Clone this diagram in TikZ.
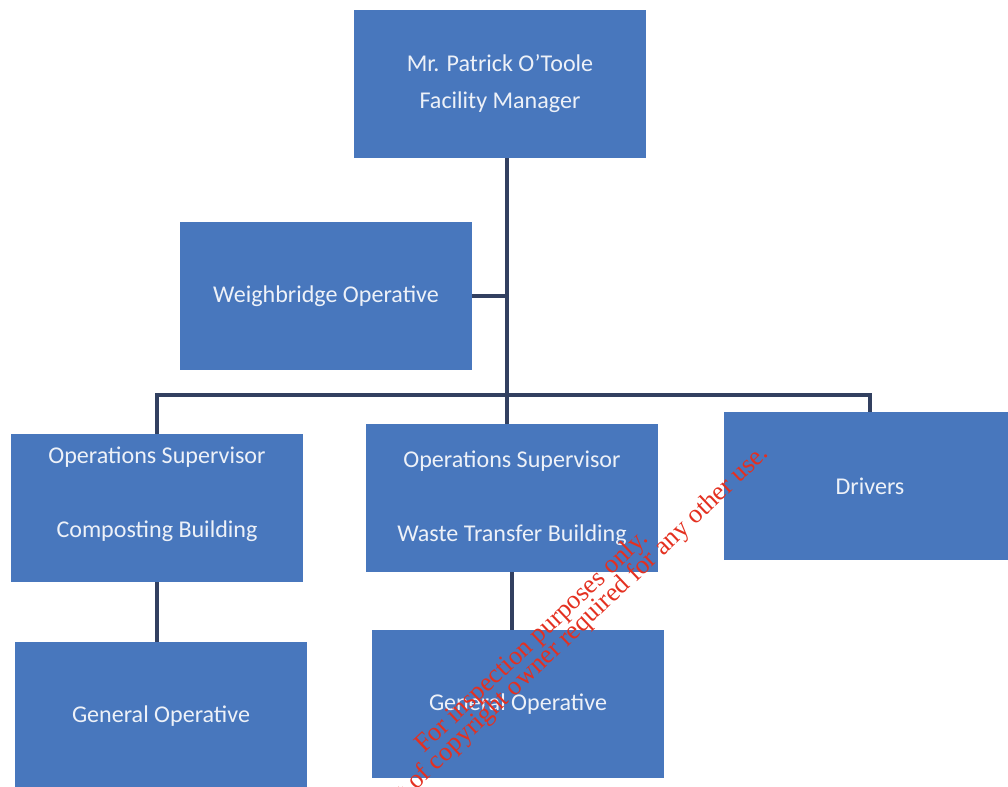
\documentclass[tikz,border=0pt]{standalone}
\usepackage{fontspec}
\setmainfont{Carlito}
\newfontfamily\stampfont{Liberation Serif}
\usetikzlibrary{positioning}
\definecolor{boxblue}{RGB}{72,119,189}
\definecolor{linkgrey}{RGB}{50,64,96}
\definecolor{stampred}{RGB}{228,48,32}

\begin{document}
\begin{tikzpicture}[x=0.02cm, y=-0.02cm,
  post/.style={fill=boxblue, text=white!90!boxblue, font=\fontsize{13.7}{16.5}\selectfont, align=center, inner sep=0pt, minimum width=5.84cm, minimum height=2.96cm},
  link/.style={draw=linkgrey, line width=2.3pt},
  stamp/.style={text=stampred, font=\stampfont\fontsize{15}{17}\selectfont, rotate=43.5, inner sep=0pt}]
\clip (0,0) rectangle (1008,787);
\fill[white] (0,0) rectangle (1008,787);
% posts
\path (500,84) node[post] (top) {Mr. Patrick O'Toole\\[4.5pt]Facility Manager};
\path (326,296) node[post] (weigh) {Weighbridge Operative};
\path (157,508) node[post] (opsc) {Operations Supervisor\\[25.5pt]Composting Building\\[1.5pt]\mbox{}};
\path (512,498) node[post] (opsw) {Operations Supervisor\\[25.5pt]Waste Transfer Building};
\path (870,486) node[post] (drivers) {Drivers};
\path (161,716) node[post] (genc) {General Operative};
\path (518,704) node[post] (genw) {General Operative};
% lines
\coordinate (hub) at (507,395);
\draw[link] (top.south -| hub) -- (hub);
\draw[link] (weigh.east) -- (weigh.east -| hub);
\draw[link] (opsc.north) |- (hub) -| (drivers.north);
\draw[link] (hub) -- (hub |- opsw.north);
\draw[link] (opsc.south) -- (opsc.south |- genc.north);
\draw[link] (opsw.south) -- (opsw.south |- genw.north);
% stamp
\path (424,754) node[stamp, anchor=base west] (stamp1) {For inspection purposes only.};
\path (770,455) node[stamp, anchor=base east] (stamp2) {Consent of copyright owner required for any other use.};
\end{tikzpicture}
\end{document}
